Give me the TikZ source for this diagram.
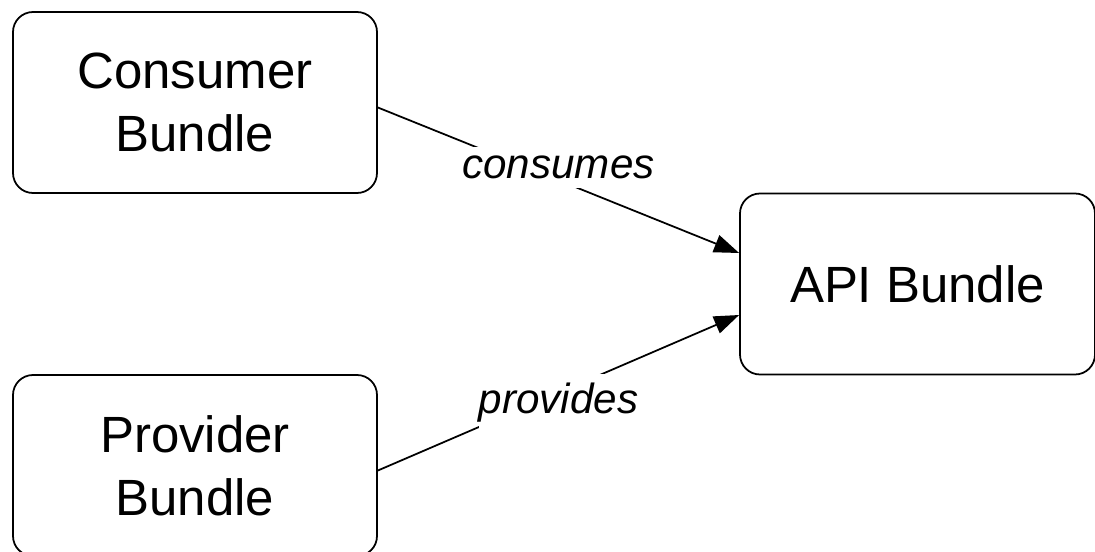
\documentclass[tikz,border=0pt]{standalone}
\usepackage{fontspec}
\setmainfont{Liberation Sans}
\usetikzlibrary{arrows.meta}

\begin{document}
\begin{tikzpicture}
   \tikzstyle{bundle}=[draw, rounded corners=0.4cm, line width=1pt, align=center, font=\fontsize{29}{36}\selectfont, minimum width=7.28cm, minimum height=3.62cm]
   \tikzstyle{uses}=[line width=1pt, -{Triangle[length=0.5cm, width=0.36cm]}]
   \tikzstyle{role}=[fill=white, inner xsep=0pt, inner ysep=5pt, font=\itshape\fontsize{24}{29}\selectfont]

\useasboundingbox (0,0) rectangle (21.9,-11.02);

\node[bundle] (consumer) at (3.9,-2.05) {Consumer\\Bundle};
\node[bundle] (provider) at (3.9,-9.31) {Provider\\Bundle};
\node[bundle, minimum width=7.1cm] (api) at (18.35,-5.68) {API Bundle};

\draw[uses] ([yshift=-0.1cm]consumer.east) -- node[role, pos=0.5, yshift=0.26cm] {consumes} ([yshift=0.62cm]api.west);
\draw[uses] ([yshift=-0.1cm]provider.east) -- node[role, pos=0.5, yshift=-0.2cm] {provides} ([yshift=-0.62cm]api.west);

\end{tikzpicture}
\end{document}
